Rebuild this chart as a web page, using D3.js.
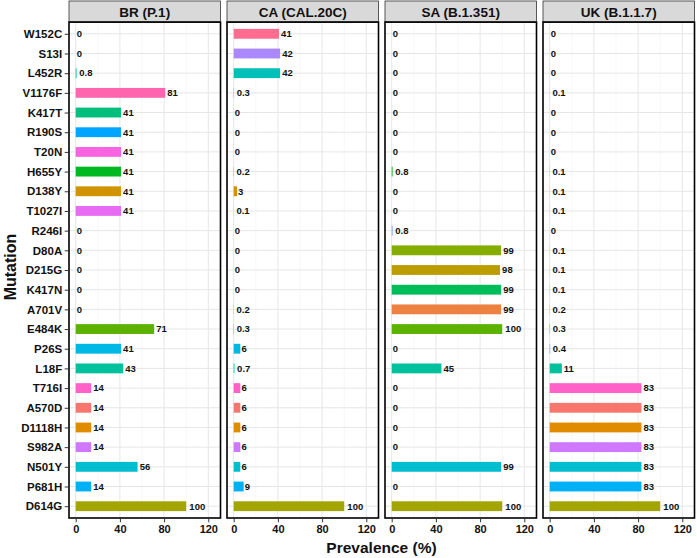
<!DOCTYPE html>
<html>
<head>
<meta charset="utf-8">
<script src="https://cdn.jsdelivr.net/npm/d3@7"></script>
<style>
  html, body { margin: 0; padding: 0; background: #fff; }
  svg { display: block; font-family: "Liberation Sans", Arial, Helvetica, sans-serif; }
</style>
</head>
<body>
<svg id="chart" width="697" height="558"></svg>
<script>
// ---------------- data ----------------
const mutations = ["W152C","S13I","L452R","V1176F","K417T","R190S","T20N","H655Y","D138Y","T1027I",
  "R246I","D80A","D215G","K417N","A701V","E484K","P26S","L18F","T716I","A570D","D1118H","S982A",
  "N501Y","P681H","D614G"];
const brValues = [0, 0, 0.8, 81, 41, 41, 41, 41, 41, 41, 0, 0, 0, 0, 0, 71, 41, 43, 14, 14, 14, 14, 56, 14, 100];
const caValues = [41, 42, 42, 0.3, 0, 0, 0, 0.2, 3, 0.1, 0, 0, 0, 0, 0.2, 0.3, 6, 0.7, 6, 6, 6, 6, 6, 9, 100];
const saValues = [0, 0, 0, 0, 0, 0, 0, 0.8, 0, 0, 0.8, 99, 98, 99, 99, 100, 0, 45, 0, 0, 0, 0, 99, 0, 100];
const ukValues = [0, 0, 0, 0.1, 0, 0, 0, 0.1, 0.1, 0.1, 0, 0.1, 0.1, 0.1, 0.2, 0.3, 0.4, 11, 83, 83, 83, 83, 83, 83, 100];
const panelTitles = ["BR (P.1)", "CA (CAL.20C)", "SA (B.1.351)", "UK (B.1.1.7)"];
const panelValues = [brValues, caValues, saValues, ukValues];
const xTickValues = [0, 40, 80, 120];
const xMinorValues = [20, 60, 100];
const xTitle = "Prevalence (%)";
const yTitle = "Mutation";

// ---------------- ggplot-like hue palette (polarLUV) ----------------
function hclR(h, c, l) {
  const WY = 100, Wu = 0.1978398, Wv = 0.4683363;
  const hr = h * Math.PI / 180;
  const U = c * Math.cos(hr), V = c * Math.sin(hr);
  const Y = WY * (l > 7.999592 ? Math.pow((l + 16) / 116, 3) : l / 903.3);
  const u = U / (13 * l) + Wu, v = V / (13 * l) + Wv;
  const X = 9.0 * Y * u / (4 * v);
  const Z = -X / 3 - 5 * Y + 3 * Y / v;
  const x = X / WY, y = Y / WY, z = Z / WY;
  const g = t => { t = t > 0.00304 ? 1.055 * Math.pow(t, 1 / 2.4) - 0.055 : 12.92 * t; return Math.round(255 * Math.max(0, Math.min(1, t))); };
  const r = g(3.240479 * x - 1.537150 * y - 0.498535 * z);
  const gg = g(-0.969256 * x + 1.875992 * y + 0.041556 * z);
  const b = g(0.055648 * x - 0.204043 * y + 1.057311 * z);
  return `rgb(${r},${gg},${b})`;
}
const sortedMut = mutations.slice().sort();
const n = sortedMut.length;
const hueColors = sortedMut.map((m, i) => hclR(15 + i * (360 / n), 100, 65));
const color = d3.scaleOrdinal().domain(sortedMut).range(hueColors);

// ---------------- layout ----------------
const svg = d3.select("#chart");
const plotTop = 22, plotBottom = 518, stripTop = 1;
const panelLeft0 = 69, panelWidth = 151.5, panelStep = 158;
const textColor = "#111";

const y = d3.scaleBand().domain(mutations)
  .range([plotTop, plotBottom]).paddingOuter(0.6 / 1).paddingInner(0);
// emulate ggplot discrete expansion (0.6 units each side)
const yPos = d3.scalePoint().domain(mutations).range([plotTop, plotBottom]).padding(0.6);
const step = yPos.step();
const barH = step * 0.5;

panelValues.forEach((vals, pi) => {
  const left = panelLeft0 + pi * panelStep;
  const x = d3.scaleLinear().domain([-6.06, 131.04]).range([left, left + panelWidth]);
  const g = svg.append("g");

  // background
  g.append("rect").attr("x", left).attr("y", plotTop).attr("width", panelWidth)
    .attr("height", plotBottom - plotTop).attr("fill", "#fff");

  // minor grid
  g.selectAll(".minor").data(xMinorValues).join("line")
    .attr("x1", d => x(d)).attr("x2", d => x(d))
    .attr("y1", plotTop).attr("y2", plotBottom)
    .attr("stroke", "#f2f2f2").attr("stroke-width", 0.6);
  // major grid
  g.selectAll(".majorx").data(xTickValues).join("line")
    .attr("x1", d => x(d)).attr("x2", d => x(d))
    .attr("y1", plotTop).attr("y2", plotBottom)
    .attr("stroke", "#e6e6e6").attr("stroke-width", 1);
  g.selectAll(".majory").data(mutations).join("line")
    .attr("x1", left).attr("x2", left + panelWidth)
    .attr("y1", d => yPos(d)).attr("y2", d => yPos(d))
    .attr("stroke", "#e6e6e6").attr("stroke-width", 1);

  // bars
  g.selectAll(".bar").data(mutations).join("rect")
    .attr("x", x(0))
    .attr("y", d => yPos(d) - barH / 2)
    .attr("width", (d, i) => Math.max(0, x(vals[i]) - x(0)))
    .attr("height", barH)
    .attr("fill", d => color(d));

  // labels
  const labels = g.selectAll(".lbl").data(mutations).join("text")
    .attr("y", d => yPos(d))
    .attr("dy", "0.35em")
    .attr("font-size", 9.5)
    .attr("font-weight", "bold")
    .attr("fill", textColor)
    .text((d, i) => String(vals[i]));
  labels.each(function (d, i) {
    const w = this.getComputedTextLength();
    d3.select(this).attr("x", x(vals[i]) + 0.2 * w);
  });

  // panel border
  g.append("rect").attr("x", left).attr("y", plotTop).attr("width", panelWidth)
    .attr("height", plotBottom - plotTop).attr("fill", "none")
    .attr("stroke", "#000").attr("stroke-width", 1.6);

  // strip
  g.append("rect").attr("x", left).attr("y", stripTop).attr("width", panelWidth)
    .attr("height", plotTop - stripTop).attr("fill", "#d9d9d9")
    .attr("stroke", "#333").attr("stroke-width", 0.8);
  g.append("line").attr("x1", left).attr("x2", left + panelWidth)
    .attr("y1", plotTop).attr("y2", plotTop).attr("stroke", "#000").attr("stroke-width", 1.6);
  g.append("text").attr("x", left + panelWidth / 2).attr("y", 16.5)
    .attr("text-anchor", "middle").attr("font-size", 13.5).attr("font-weight", "bold")
    .attr("fill", textColor).text(panelTitles[pi]);

  // x axis
  const xAxis = d3.axisBottom(x).tickValues(xTickValues).tickSize(3.5).tickPadding(3);
  const ax = g.append("g").attr("transform", `translate(0,${plotBottom + 0.8})`).call(xAxis);
  ax.select(".domain").remove();
  ax.selectAll("line").attr("stroke", "#333");
  ax.selectAll("text").attr("font-size", 11).attr("font-weight", "bold")
    .attr("fill", textColor).attr("font-family", "Liberation Sans, Arial, sans-serif");
});

// y axis (left panel only)
const yAxis = d3.axisLeft(yPos).tickSize(3.5).tickPadding(2.5);
const ay = svg.append("g").attr("transform", `translate(${panelLeft0 - 0.8},0)`).call(yAxis);
ay.select(".domain").remove();
ay.selectAll("line").attr("stroke", "#333");
ay.selectAll("text").attr("font-size", 11.5).attr("font-weight", "bold")
  .attr("fill", textColor).attr("font-family", "Liberation Sans, Arial, sans-serif");

// axis titles
svg.append("text").attr("x", 381.5).attr("y", 553)
  .attr("text-anchor", "middle").attr("font-size", 15.5).attr("font-weight", "bold")
  .attr("fill", textColor).text(xTitle);
svg.append("text").attr("transform", `translate(16,267) rotate(-90)`)
  .attr("text-anchor", "middle").attr("font-size", 16).attr("font-weight", "bold")
  .attr("fill", textColor).text(yTitle);
</script>
</body>
</html>
